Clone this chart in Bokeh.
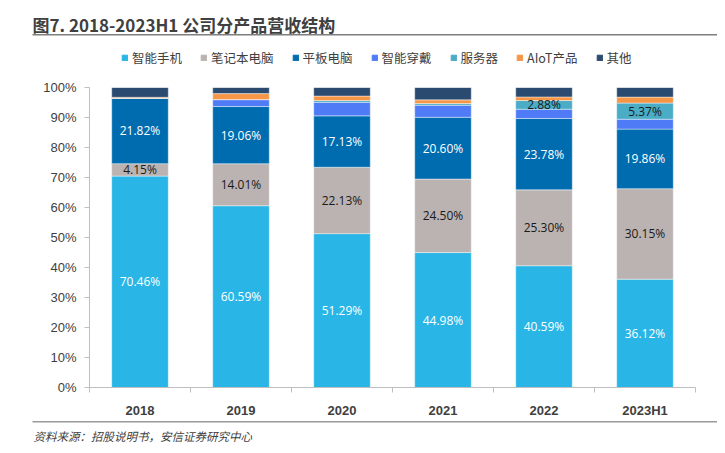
import numpy as np
from bokeh.plotting import figure
from bokeh.layouts import column
from bokeh.models import (Range1d, FixedTicker, Legend, LegendItem, Label,
                          BoxAnnotation, ColumnDataSource)
from bokeh.core.properties import value
from bokeh.embed import file_html
from bokeh.resources import INLINE

# ---- data ----
years = ["2018", "2019", "2020", "2021", "2022", "2023H1"]
series_names = ["智能手机", "笔记本电脑", "平板电脑", "智能穿戴", "服务器", "AIoT产品", "其他"]
phone = [70.46, 60.59, 51.29, 44.98, 40.59, 36.12]
notebook = [4.15, 14.01, 22.13, 24.50, 25.30, 30.15]
tablet = [21.82, 19.06, 17.13, 20.60, 23.78, 19.86]
wearable = [0.0, 2.3, 4.5, 4.0, 3.1, 3.3]
server = [0.0, 0.0, 0.6, 0.6, 2.88, 5.37]
aiot = [0.3, 2.0, 1.5, 1.2, 1.2, 2.0]
others = [3.27, 2.04, 2.85, 4.12, 3.15, 3.2]
server_labeled = [False, False, False, False, True, True]
y_ticks = [0, 10, 20, 30, 40, 50, 60, 70, 80, 90, 100]
title_text = "图7. 2018-2023H1 公司分产品营收结构"
source_text = "资料来源：招股说明书，安信证券研究中心"

colors = ["#29B6E6", "#BBB3B1", "#006CB0", "#4F7BF7", "#4BACC6", "#F79646", "#2B4A6F"]
keys = ["phone", "notebook", "tablet", "wearable", "server", "aiot", "others"]
series = [phone, notebook, tablet, wearable, server, aiot, others]

W = 717
CJK = "Noto Sans CJK SC"


def blank_fig(h):
    f = figure(width=W, height=h, output_backend="svg", toolbar_location=None,
               x_range=Range1d(0, 1), y_range=Range1d(0, 1),
               x_axis_location=None, y_axis_location=None,
               min_border=0, min_border_left=0, min_border_right=0,
               min_border_top=0, min_border_bottom=0)
    f.outline_line_color = None
    f.xgrid.visible = False
    f.ygrid.visible = False
    return f


# ---- header: title, rule, legend ----
head = blank_fig(70)
head.add_layout(Label(x=32, y=46, x_units="screen", y_units="screen", text=title_text,
                      text_font=CJK, text_font_style="bold", text_font_size="17px",
                      text_color="#404040", text_baseline="middle"))
head.add_layout(BoxAnnotation(left=32, right=W, bottom=35, top=36.5, left_units="screen",
                              right_units="screen", bottom_units="screen", top_units="screen",
                              fill_color="#7F7F7F", fill_alpha=1, line_color=None))
# legend keys: one off-view bar per series so the legend can draw its colour swatch
dummies = [head.vbar(x=[10], top=[0.5], width=0.1, color=c) for c in colors]
legend = Legend(items=[LegendItem(label=n, renderers=[r]) for n, r in zip(series_names, dummies)],
                orientation="horizontal", location=(121, 3),
                glyph_width=7, glyph_height=7, label_standoff=4, spacing=18,
                padding=0, margin=0, border_line_color=None, background_fill_alpha=0,
                label_text_font=CJK, label_text_font_size="12.5px",
                label_text_color="#404040", label_height=14)
head.add_layout(legend, "center")

# ---- main chart ----
xpos = [i + 0.5 for i in range(len(years))]
data = {"x": xpos}
for k, s in zip(keys, series):
    data[k] = s
src = ColumnDataSource(data)

p = figure(width=W, height=350, output_backend="svg", toolbar_location=None,
           x_range=Range1d(0, len(years)), y_range=Range1d(0, 100),
           min_border_left=89, min_border_right=22, min_border_top=17, min_border_bottom=33)
p.outline_line_color = None
p.xgrid.grid_line_color = None
p.ygrid.grid_line_color = None

p.vbar_stack(keys, x="x", width=0.56, source=src, color=colors,
             line_color="white", line_width=0.6, line_alpha=0.7)

p.yaxis.ticker = FixedTicker(ticks=y_ticks)
p.yaxis.major_label_overrides = {t: f"{t}%" for t in y_ticks}
p.yaxis.axis_line_color = "#BFBFBF"
p.yaxis.major_tick_line_color = "#BFBFBF"
p.yaxis.major_tick_out = 5
p.yaxis.major_tick_in = 0
p.yaxis.minor_tick_line_color = None
p.yaxis.major_label_text_font = "Liberation Sans"
p.yaxis.major_label_text_font_size = "13px"
p.yaxis.major_label_text_color = "#404040"
p.yaxis.major_label_standoff = 8

p.xaxis.ticker = FixedTicker(ticks=xpos, minor_ticks=list(range(len(years) + 1)))
p.xaxis.major_label_overrides = {x: y for x, y in zip(xpos, years)}
p.xaxis.axis_line_color = "#BFBFBF"
p.xaxis.major_tick_line_color = None
p.xaxis.minor_tick_line_color = "#BFBFBF"
p.xaxis.minor_tick_out = 5
p.xaxis.minor_tick_in = 0
p.xaxis.major_label_text_font = "Liberation Sans"
p.xaxis.major_label_text_font_style = "bold"
p.xaxis.major_label_text_font_size = "13px"
p.xaxis.major_label_text_color = "#404040"
p.xaxis.major_label_standoff = 9

arr = np.array(series)
cum = np.cumsum(arr, axis=0)
bottoms = cum - arr
lx, ly, lt, lc = [], [], [], []
label_cfg = [(0, "white", [True] * 6), (1, "#1a1a1a", [True] * 6),
             (2, "white", [True] * 6), (4, "#1a1a1a", server_labeled)]
for si, col, mask in label_cfg:
    for j in range(len(years)):
        if mask[j]:
            lx.append(xpos[j])
            ly.append(bottoms[si, j] + arr[si, j] / 2)
            lt.append(f"{arr[si, j]:.2f}%")
            lc.append(col)
p.text(x=lx, y=ly, text=lt, text_color=lc, text_align="center", text_baseline="middle",
       text_font=value("Open Sans"), text_font_size="12px")

# ---- footer: rule and source ----
foot = blank_fig(25)
foot.add_layout(BoxAnnotation(left=32, right=W, bottom=23, top=24.5, left_units="screen",
                              right_units="screen", bottom_units="screen", top_units="screen",
                              fill_color="#9A9A9A", fill_alpha=1, line_color=None))
foot.add_layout(Label(x=33, y=10, x_units="screen", y_units="screen", text=source_text,
                      text_font=CJK, text_font_style="italic", text_font_size="11.5px",
                      text_color="#404040", text_baseline="middle"))

layout = column(column(head), p, column(foot), spacing=0)
open("out.html", "w").write(file_html(layout, INLINE))
